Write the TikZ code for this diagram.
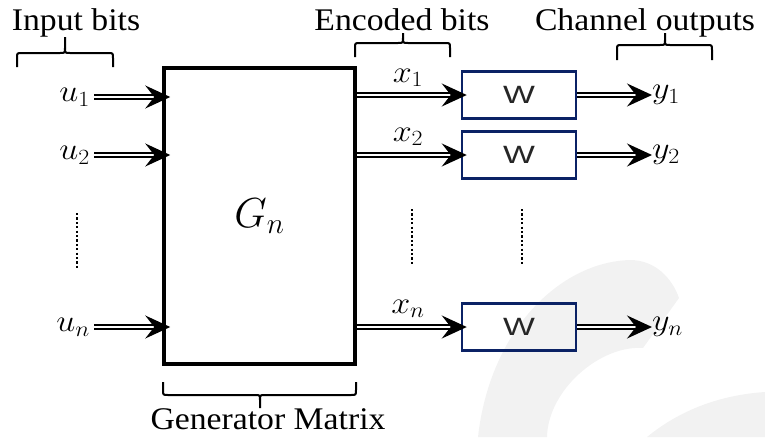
\RequirePackage{fix-cm}
\documentclass[tikz,border=0pt]{standalone}
\usepackage{fontspec}
\setmainfont{Liberation Serif}
\newfontfamily\tfont{Liberation Serif}
\newfontfamily\wfont{Liberation Sans}
\usepackage{graphicx}
\usetikzlibrary{arrows.meta,calc}
\definecolor{navy}{HTML}{0B2265}
\definecolor{wmgray}{HTML}{F2F2F2}
\newcommand{\sx}[1]{\scalebox{1.07}[1]{#1}}
\newcommand{\sm}[1]{\scalebox{1.1}[1]{#1}}
\newcommand{\sw}[1]{\scalebox{1.35}[1]{#1}}
\newcommand{\mybrc}[7]{%
  \draw[brc] (#1,#4) -- (#1,{#5+(#7)}) .. controls (#1,#5) .. ({#1+5},#5) -- ({#3-5},#5) .. controls (#3,#5) .. (#3,{#5-(#7)}) -- (#3,#6);
  \draw[brc] (#2,#4) -- (#2,{#5+(#7)}) .. controls (#2,#5) .. ({#2-5},#5) -- ({#3+5},#5) .. controls (#3,#5) .. (#3,{#5-(#7)});}
\begin{document}
\begin{tikzpicture}[x=1pt,y=-1pt,
  lbl/.style={font=\tfont\fontsize{31.5pt}{34pt}\selectfont, inner sep=0pt},
  mth/.style={font=\fontsize{31pt}{34pt}\selectfont, inner sep=0pt},
  gbox/.style={draw, line width=3.5pt, minimum width=191pt, minimum height=296pt, inner sep=0pt},
  wbox/.style={draw=navy, line width=2.5pt, minimum width=114pt, minimum height=47pt, inner sep=0pt,
    font=\wfont\fontsize{25pt}{26pt}\selectfont, text=black!85},
  darr/.style={double, line width=1.4pt, double distance=2.6pt, -{Stealth[length=25pt,width=23pt,inset=9pt]}},
  brc/.style={line width=2pt},
  dotv/.style={line width=2.6pt, dash pattern=on 2.2pt off 2.2pt}]
\useasboundingbox (0,0) rectangle (765,437);
% faint watermark
\fill[wmgray] (478,437) .. controls (490,330) and (560,262) .. (630,260)
  .. controls (655,260) and (672,278) .. (679,298) -- (643,348)
  .. controls (600,345) and (548,390) .. (547,437) -- cycle;
\fill[wmgray] (647,437) .. controls (680,410) and (720,395) .. (765,392) -- (765,437) -- cycle;

% titles
\node[lbl, anchor=base] (tin) at (76,30) {\sx{Input bits}};
\node[lbl, anchor=base] (tenc) at (402,30) {\sx{Encoded bits}};
\node[lbl, anchor=base] (tch) at (645,30) {\sx{Channel outputs}};
\node[lbl, anchor=base] (tgen) at (268,429) {\sx{Generator Matrix}};

% braces
\mybrc{17}{113}{65}{67}{53}{37}{5}
\mybrc{355}{450}{403}{57}{43}{33}{5}
\mybrc{617}{712}{665}{60}{45}{33}{5}
\mybrc{163}{356}{260}{382}{395}{408}{-5}

% generator box
\node[gbox] (G) at (259.5,216) {\fontsize{42pt}{46pt}\selectfont$G_n$};

% channel boxes
\node[wbox] (w1) at (519,95) {\sw{W}};
\node[wbox] (w2) at (519,155) {\sw{W}};
\node[wbox] (w3) at (519,327) {\sw{W}};

% inputs
\node[mth, anchor=east] (u1) at (90,97) {\sm{$u_1$}};
\node[mth, anchor=east] (u2) at (90,155) {\sm{$u_2$}};
\node[mth, anchor=east] (un) at (90,327) {\sm{$u_n$}};

% encoded labels
\node[mth, anchor=south] (x1) at (408,87) {\sm{$x_1$}};
\node[mth, anchor=south] (x2) at (408,146) {\sm{$x_2$}};
\node[mth, anchor=south] (xn) at (408,318) {\sm{$x_n$}};

% outputs
\node[mth, anchor=west] (y1) at (652,95) {\sm{$y_1$}};
\node[mth, anchor=west] (y2) at (652,155) {\sm{$y_2$}};
\node[mth, anchor=west] (yn) at (652,327) {\sm{$y_n$}};

% arrows
\foreach \u in {u1,u2,un}
  \draw[darr] ($(\u.east)+(4,0)$) -- ($(G.west|-\u.east)+(8,0)$);
\foreach \w in {w1,w2,w3}
  \draw[darr] (G.east|-\w.west) -- ($(\w.west)+(6,0)$);
\draw[darr] (w1.east) -- (y1.west);
\draw[darr] (w2.east) -- (y2.west);
\draw[darr] (w3.east) -- (yn.west);

% dots
\draw[dotv] (77,213) -- (77,270);
\draw[dotv] (412,209) -- (412,266);
\draw[dotv] (522,209) -- (522,266);
\end{tikzpicture}
\end{document}
